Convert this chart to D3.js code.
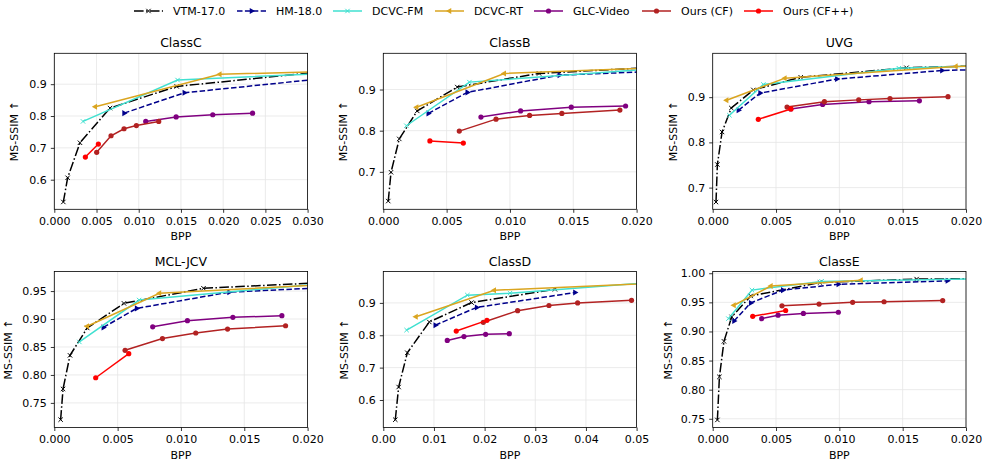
<!DOCTYPE html>
<html>
<head>
<meta charset="utf-8">
<script src="https://cdn.jsdelivr.net/npm/d3@7/dist/d3.min.js"></script>
<style>
  body { margin: 0; background: #fff; }
  text { font-family: "DejaVu Sans", sans-serif; fill: #000; }
</style>
</head>
<body>
<div id="graphic"></div>
<script>
// series, in legend order
var seriesNames = ['VTM-17.0', 'HM-18.0', 'DCVC-FM', 'DCVC-RT', 'GLC-Video', 'Ours (CF)', 'Ours (CF++)'];

var titles = ['ClassC', 'ClassB', 'UVG', 'MCL-JCV', 'ClassD', 'ClassE'];
var xMax = [0.03, 0.02, 0.02, 0.02, 0.05, 0.02];
var yMin = [0.507, 0.609, 0.652, 0.706, 0.515, 0.735];
var yMax = [0.997, 0.988, 0.997, 0.985, 0.997, 1.003];
var xTicks = [
  [0, 0.005, 0.010, 0.015, 0.020, 0.025, 0.030],
  [0, 0.005, 0.010, 0.015, 0.020],
  [0, 0.005, 0.010, 0.015, 0.020],
  [0, 0.005, 0.010, 0.015, 0.020],
  [0, 0.01, 0.02, 0.03, 0.04, 0.05],
  [0, 0.005, 0.010, 0.015, 0.020]
];
var yTicks = [
  [0.6, 0.7, 0.8, 0.9],
  [0.7, 0.8, 0.9],
  [0.7, 0.8, 0.9],
  [0.75, 0.80, 0.85, 0.90, 0.95],
  [0.6, 0.7, 0.8, 0.9],
  [0.75, 0.80, 0.85, 0.90, 0.95, 1.00]
];

// [bpp, ms-ssim] per series
var classC = [
  [[0.00107, 0.530], [0.00158, 0.606], [0.00304, 0.716], [0.0066, 0.825], [0.0145, 0.893], [0.032, 0.940]],
  [[0.00826, 0.809], [0.0154, 0.873], [0.032, 0.918]],
  [[0.0034, 0.783], [0.0146, 0.913], [0.033, 0.935]],
  [[0.00486, 0.829], [0.0196, 0.931], [0.035, 0.942]],
  [[0.01083, 0.783], [0.01443, 0.797], [0.01877, 0.804], [0.02348, 0.809]],
  [[0.00502, 0.686], [0.00672, 0.738], [0.00826, 0.760], [0.00972, 0.770], [0.01237, 0.783]],
  [[0.00368, 0.671], [0.00522, 0.712]]
];
var classB = [
  [[0.00039, 0.629], [0.00061, 0.699], [0.00126, 0.780], [0.00268, 0.848], [0.00584, 0.906], [0.0123, 0.939], [0.022, 0.955]],
  [[0.00355, 0.842], [0.00663, 0.893], [0.0139, 0.935], [0.024, 0.947]],
  [[0.00182, 0.812], [0.0068, 0.918], [0.022, 0.952]],
  [[0.00263, 0.857], [0.00955, 0.939], [0.025, 0.957]],
  [[0.00771, 0.833], [0.01084, 0.848], [0.01484, 0.857], [0.01913, 0.860]],
  [[0.0060, 0.799], [0.0089, 0.828], [0.01155, 0.837], [0.0141, 0.842], [0.01868, 0.850]],
  [[0.00368, 0.775], [0.00632, 0.770]]
];
var uvg = [
  [[0.00026, 0.668], [0.00037, 0.751], [0.00074, 0.823], [0.00147, 0.876], [0.00321, 0.916], [0.00695, 0.944], [0.0153, 0.965], [0.022, 0.970]],
  [[0.00203, 0.871], [0.00374, 0.909], [0.0098, 0.940], [0.0181, 0.959], [0.024, 0.963]],
  [[0.00132, 0.860], [0.0040, 0.928], [0.0147, 0.964], [0.022, 0.970]],
  [[0.0011, 0.893], [0.0057, 0.942], [0.0192, 0.968], [0.025, 0.970]],
  [[0.00616, 0.874], [0.00868, 0.884], [0.01234, 0.890], [0.01632, 0.892]],
  [[0.00587, 0.878], [0.00882, 0.890], [0.01153, 0.894], [0.0140, 0.897], [0.01858, 0.901]],
  [[0.0036, 0.851], [0.00618, 0.874]]
];
var mclJcv = [
  [[0.0005, 0.720], [0.00069, 0.775], [0.00124, 0.835], [0.0026, 0.884], [0.0055, 0.928], [0.01178, 0.955], [0.024, 0.968]],
  [[0.00387, 0.885], [0.0065, 0.919], [0.0138, 0.948], [0.025, 0.960]],
  [[0.00198, 0.859], [0.0067, 0.934], [0.022, 0.965]],
  [[0.0026, 0.887], [0.0083, 0.946], [0.025, 0.966]],
  [[0.00777, 0.886], [0.01051, 0.897], [0.0141, 0.903], [0.01797, 0.906]],
  [[0.00559, 0.844], [0.00854, 0.865], [0.01117, 0.875], [0.01368, 0.882], [0.01826, 0.888]],
  [[0.00327, 0.795], [0.00588, 0.838]]
];
var classD = [
  [[0.00237, 0.539], [0.00303, 0.640], [0.00474, 0.746], [0.00908, 0.841], [0.01743, 0.901], [0.03388, 0.942]],
  [[0.01026, 0.831], [0.01842, 0.886], [0.03783, 0.932]],
  [[0.0046, 0.816], [0.0166, 0.924], [0.025, 0.930], [0.055, 0.966]],
  [[0.00645, 0.857], [0.0219, 0.939], [0.060, 0.965]],
  [[0.01263, 0.784], [0.01592, 0.796], [0.0202, 0.803], [0.02487, 0.805]],
  [[0.01974, 0.840], [0.02651, 0.876], [0.0327, 0.892], [0.03836, 0.900], [0.0490, 0.908]],
  [[0.0144, 0.813], [0.02046, 0.846]]
];
var classE = [
  [[0.00037, 0.748], [0.00053, 0.822], [0.00089, 0.883], [0.0015, 0.925], [0.0030, 0.961], [0.00847, 0.984], [0.0161, 0.990], [0.024, 0.991]],
  [[0.00168, 0.918], [0.0030, 0.949], [0.00553, 0.971], [0.00992, 0.981], [0.01853, 0.987]],
  [[0.00124, 0.922], [0.0031, 0.971], [0.0086, 0.986], [0.025, 0.992]],
  [[0.00168, 0.945], [0.0046, 0.978], [0.01171, 0.988]],
  [[0.00387, 0.922], [0.00516, 0.928], [0.00716, 0.931], [0.00992, 0.933]],
  [[0.00547, 0.944], [0.0084, 0.947], [0.01105, 0.950], [0.01353, 0.951], [0.01816, 0.953]],
  [[0.00316, 0.926], [0.00576, 0.936]]
];
var panelData = [classC, classB, uvg, mclJcv, classD, classE];

// line look per series
var styles = [
  {color: '#000000', dash: '9.6,2.4,1.5,2.4', marker: 'x'},
  {color: '#00008b', dash: '5.5,2.4', marker: 'right'},
  {color: '#40e0d0', dash: null, marker: 'x'},
  {color: '#daa520', dash: null, marker: 'left'},
  {color: '#800080', dash: null, marker: 'o'},
  {color: '#b22222', dash: null, marker: 'o'},
  {color: '#ff0000', dash: null, marker: 'o'}
];

var W = 988, H = 466;
var colLeft = [54.3, 383.3, 712.7];
var rowTop = [53.3, 271.5];
var pw = 253.3, ph = 156;
var yLabelOff = [36, 36, 36, 42, 35, 41];

var svg = d3.select('#graphic').append('svg')
    .attr('width', W)
    .attr('height', H);

function drawMarker(g, type, color, px, py) {
  if (type === 'x') {
    var s = 2.2;
    g.append('path')
        .attr('d', 'M' + (px - s) + ',' + (py - s) + 'L' + (px + s) + ',' + (py + s) +
                   'M' + (px - s) + ',' + (py + s) + 'L' + (px + s) + ',' + (py - s))
        .attr('stroke', color)
        .attr('stroke-width', 1)
        .attr('fill', 'none');
  } else if (type === 'o') {
    g.append('circle')
        .attr('cx', px).attr('cy', py).attr('r', 2.6)
        .attr('fill', color);
  } else {
    var rot = type === 'right' ? 90 : -90;
    g.append('path')
        .attr('d', d3.symbol(d3.symbolTriangle, 16)())
        .attr('transform', 'translate(' + px + ',' + py + ') rotate(' + rot + ')')
        .attr('fill', color);
  }
}

titles.forEach(function(title, i) {
  var left = colLeft[i % 3], top = rowTop[Math.floor(i / 3)];
  var x = d3.scaleLinear().domain([0, xMax[i]]).range([0, pw]);
  var y = d3.scaleLinear().domain([yMin[i], yMax[i]]).range([ph, 0]);
  var xFmt = xMax[i] === 0.05 ? d3.format('.2f') : d3.format('.3f');
  var yFmt = (i === 3 || i === 5) ? d3.format('.2f') : d3.format('.1f');

  var g = svg.append('g').attr('transform', 'translate(' + left + ',' + top + ')');

  // grid
  g.append('g').selectAll('line').data(xTicks[i]).enter().append('line')
      .attr('x1', function(d) { return x(d); }).attr('x2', function(d) { return x(d); })
      .attr('y1', 0).attr('y2', ph)
      .attr('stroke', '#e6e6e6').attr('stroke-width', 0.8);
  g.append('g').selectAll('line').data(yTicks[i]).enter().append('line')
      .attr('y1', function(d) { return y(d); }).attr('y2', function(d) { return y(d); })
      .attr('x1', 0).attr('x2', pw)
      .attr('stroke', '#e6e6e6').attr('stroke-width', 0.8);

  // clip to the axes box
  svg.append('clipPath').attr('id', 'clip' + i)
    .append('rect').attr('x', 0).attr('y', 0).attr('width', pw).attr('height', ph);
  var plot = g.append('g').attr('clip-path', 'url(#clip' + i + ')');

  var line = d3.line()
      .x(function(d) { return x(d[0]); })
      .y(function(d) { return y(d[1]); });

  panelData[i].forEach(function(pts, k) {
    var st = styles[k];
    plot.append('path')
        .datum(pts)
        .attr('fill', 'none')
        .attr('stroke', st.color)
        .attr('stroke-width', 1.5)
        .attr('stroke-dasharray', st.dash)
        .attr('d', line);
    pts.forEach(function(p) {
      drawMarker(plot, st.marker, st.color, x(p[0]), y(p[1]));
    });
  });

  // axes
  var xAxis = g.append('g')
      .attr('transform', 'translate(0,' + ph + ')')
      .call(d3.axisBottom(x).tickValues(xTicks[i]).tickFormat(xFmt).tickSize(3.5).tickPadding(4));
  var yAxis = g.append('g')
      .call(d3.axisLeft(y).tickValues(yTicks[i]).tickFormat(yFmt).tickSize(3.5).tickPadding(4));
  [xAxis, yAxis].forEach(function(a) {
    a.select('.domain').remove();
    a.selectAll('line').attr('stroke', '#000').attr('stroke-width', 0.8);
    a.selectAll('text').style('font-size', '11px').style('font-family', '"DejaVu Sans", sans-serif');
  });

  g.append('rect')
      .attr('width', pw).attr('height', ph)
      .attr('fill', 'none').attr('stroke', '#000').attr('stroke-width', 0.8);

  g.append('text')
      .attr('x', pw / 2).attr('y', -6)
      .style('text-anchor', 'middle')
      .style('font-size', '12.5px')
      .text(title);

  g.append('text')
      .attr('x', pw / 2).attr('y', ph + 31)
      .style('text-anchor', 'middle')
      .style('font-size', '11px')
      .text('BPP');

  g.append('text')
      .attr('transform', 'rotate(-90)')
      .attr('x', -ph / 2).attr('y', -yLabelOff[i])
      .style('text-anchor', 'middle')
      .style('font-size', '11px')
      .text('MS-SSIM \u2191');
});

// legend
var legendX = [134, 237, 333, 435, 534, 642, 744];
var legend = svg.append('g').attr('transform', 'translate(0,11)');
seriesNames.forEach(function(name, k) {
  var st = styles[k];
  var lx = legendX[k];
  legend.append('line')
      .attr('x1', lx).attr('x2', lx + 29)
      .attr('y1', 0).attr('y2', 0)
      .attr('stroke', st.color)
      .attr('stroke-width', 1.5)
      .attr('stroke-dasharray', st.dash);
  drawMarker(legend, st.marker, st.color, lx + 14.5, 0);
  legend.append('text')
      .attr('x', lx + 39).attr('y', 4)
      .style('font-size', '11px')
      .text(name);
});
</script>
</body>
</html>
